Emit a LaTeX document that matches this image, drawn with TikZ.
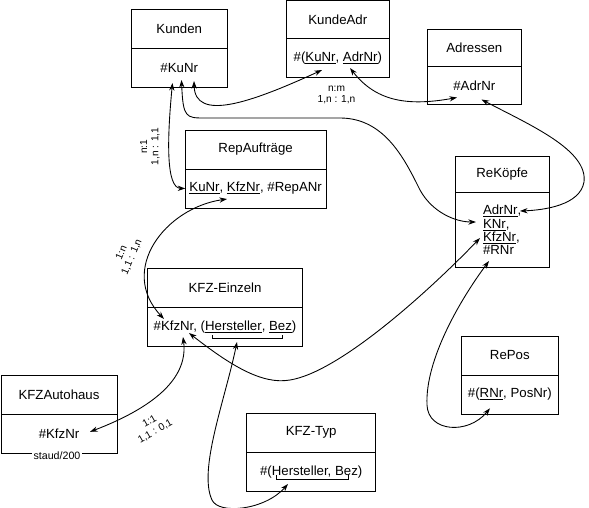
\documentclass[tikz,border=0pt]{standalone}
\usepackage{fontspec}
\setmainfont{Liberation Sans}
\usepackage{tikz}
\usetikzlibrary{positioning, arrows.meta, calc}

\newcommand{\entfont}{\fontsize{11.3}{11.4}\selectfont}
\newcommand{\cardfont}{\fontsize{8.7}{9.6}\selectfont}

\begin{document}
\begin{tikzpicture}[
    x=0.03cm, y=-0.03cm,
    every node/.style={font=\entfont, inner sep=0pt, outer sep=0pt},
    entity/.style={draw, line width=0.8pt, minimum width=#1, minimum height=1.17cm},
    attrs/.style={draw, line width=0.8pt, minimum width=#1, minimum height=1.17cm},
    card/.style={font=\cardfont, align=center},
    rel/.style={line width=0.75pt, {Stealth[length=6.5pt,width=4.5pt]}-{Stealth[length=6.5pt,width=4.5pt]}},
    bracket/.style={line width=0.75pt}
]
    \useasboundingbox (0,0) rectangle (589,508);

    \node[entity=2.865cm] (kunden) at (179.25,29) {Kunden};
    \node[attrs=2.865cm, below=0pt of kunden] (kundenkey) {\#KuNr};

    \node[entity=3.09cm, minimum height=1.15cm] (kundeadr) at (337.8,19.7) {KundeAdr};
    \node[attrs=3.09cm, minimum height=1.15cm, below=0pt of kundeadr] (kundeadrkey) {\#(\underline{KuNr}, \underline{AdrNr})};

    \node[entity=2.82cm, minimum height=1.13cm] (adressen) at (474.3,47.85) {Adressen};
    \node[attrs=2.82cm, minimum height=1.13cm, below=0pt of adressen] (adrkey) {\#AdrNr};

    \node[entity=4.22cm] (repauf) at (255.65,149.5) {RepAufträge};
    \node[attrs=4.22cm, below=0pt of repauf] (repkey) {\underline{KuNr}, \underline{KfzNr}, \#RepANr};

    \node[entity=2.83cm, minimum height=1.1cm] (rekoepfe) at (502.15,174.35) {ReKöpfe};
    \node[attrs=2.83cm, minimum height=2.24cm, align=left, below=0pt of rekoepfe] (rekkey)
        {\underline{AdrNr},\\ \underline{KNr},\\ \underline{KfzNr},\\ \#RNr};

    \node[entity=4.64cm] (kfzeinz) at (225,288) {KFZ-Einzeln};
    \node[attrs=4.64cm, below=0pt of kfzeinz] (kfzekey) {\#KfzNr, (\underline{Hersteller}, \underline{Bez})};

    \node[entity=3.48cm] (kfzauto) at (59,394.6) {KFZAutohaus};
    \node[attrs=3.48cm, below=0pt of kfzauto] (autokey) {\#KfzNr};
    \node[font=\fontsize{9.1}{10}\selectfont, fill=white, inner sep=1pt] (staud) at ($(autokey.south)+(-2,3)$) {staud/200};

    \node[entity=3.87cm] (kfztyp) at (311.2,432.8) {KFZ-Typ};
    \node[attrs=3.87cm, below=0pt of kfztyp] (typkey) {\#(Hersteller, Bez)};

    \node[entity=2.93cm] (repos) at (509.85,355.5) {RePos};
    \node[attrs=2.93cm, below=0pt of repos] (reposkey) {\#(\underline{RNr}, PosNr)};

    \draw[bracket] ($(kfzekey)+(-12.7,8)$) -- ($(kfzekey)+(-12.7,11.3)$) -- ($(kfzekey)+(57.7,11.3)$) -- ($(kfzekey)+(57.7,8)$);
    \draw[bracket] ($(typkey)+(-34.5,3.4)$) -- ($(typkey)+(-34.5,7.7)$) -- ($(typkey)+(37.1,7.7)$) -- ($(typkey)+(37.1,3.4)$);

    \draw[rel] ($(kundenkey)+(14.75,13)$) .. controls (195,122) and (250,103) .. ($(kundeadrkey)+(-15.8,12)$);
    \draw[rel] ($(kundeadrkey)+(12.2,10)$) .. controls (375,100) and (405,107) .. ($(adrkey)+(-17.3,12)$);
    \draw[rel] ($(adrkey)+(7.2,14)$) .. controls (530,125) and (588,150) .. (584,182)
        .. controls (580,205) and (545,210) .. ($(rekkey)+(17.85,-19)$);
    \draw[rel] ($(kundenkey)+(2.25,12)$) .. controls (183,118) and (186,118) .. (205,118) -- (340,118)
        .. controls (385,118) and (405,160) .. (420,190) .. controls (432,212) and (455,222) .. ($(rekkey)+(-26.15,-8)$);
    \draw[rel] ($(kundenkey)+(-6.75,15)$) .. controls (167,140) and (166,188) .. (repkey.west);
    \draw[rel] ($(repkey)+(-28.65,10.5)$) .. controls (165,208) and (118,270) .. ($(kfzekey)+(-61,-8)$);
    \draw[rel] ($(kfzekey)+(-42,10)$) .. controls (188,375) and (160,405) .. ($(autokey)+(31,-1.8)$);
    \draw[rel] ($(kfzekey)+(12,15)$) .. controls (225,400) and (198,470) .. (212,500)
        .. controls (219,515) and (265,510) .. ($(typkey)+(-23.2,12.2)$);
    \draw[rel] ($(kfzekey)+(-36,6)$) .. controls (230,365) and (262,385) .. (290,380)
        .. controls (340,372) and (430,290) .. ($(rekkey)+(-22.15,8)$);
    \draw[rel] ($(rekkey)+(-13.15,31)$) .. controls (460,300) and (425,360) .. (427,405)
        .. controls (428,432) and (468,435) .. ($(reposkey)+(-19.85,13.8)$);

    \node[card] (nm) at (336.5,94.6) {n:m\\1,n : 1,n};
    \node[card, rotate=90] (none) at (150,146.6) {n:1\\1,n : 1,1};
    \node[card, rotate=67] (onen) at (126.75,255) {1:n\\1,1 : 1,n};
    \node[card, rotate=30] (oneone) at (152.5,426.5) {1:1\\1,1 : 0,1};
\end{tikzpicture}
\end{document}
